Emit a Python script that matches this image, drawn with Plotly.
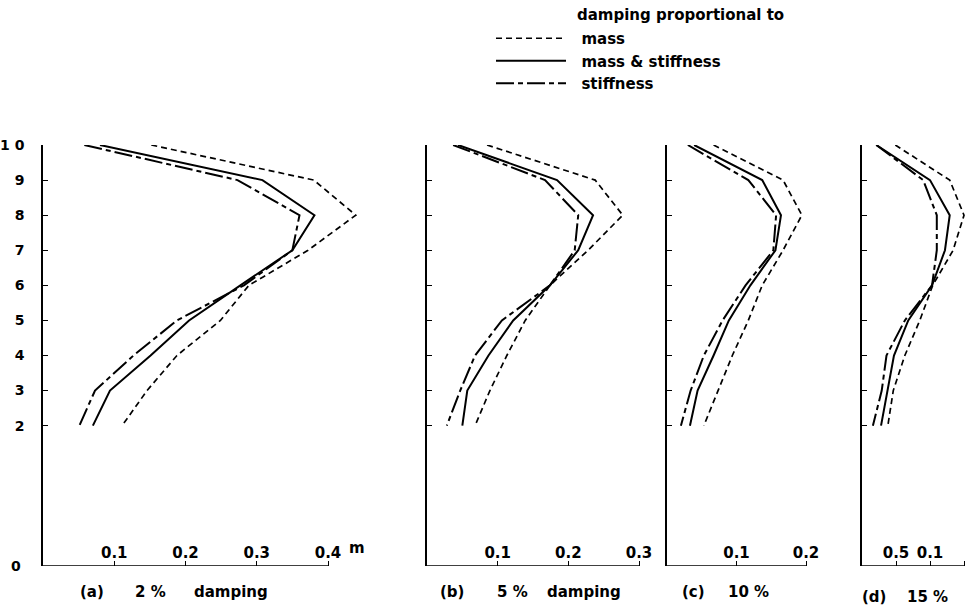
import plotly.graph_objects as go

# Storey levels (top to bottom) at which the peak displacements are plotted
levels = [10, 9, 8, 7, 6, 5, 4, 3, 2]

# Peak displacement (m) per storey, for each damping model
# (a) 2 % damping
a_mass = [0.152, 0.380, 0.439, 0.372, 0.289, 0.249, 0.188, 0.146, 0.111]
a_mass_stiff = [0.080, 0.308, 0.381, 0.350, 0.277, 0.205, 0.151, 0.094, 0.070]
a_stiff = [0.058, 0.273, 0.360, 0.350, 0.282, 0.188, 0.127, 0.073, 0.051]
# (b) 5 % damping
b_mass = [0.085, 0.238, 0.277, 0.228, 0.174, 0.139, 0.113, 0.089, 0.068]
b_mass_stiff = [0.044, 0.184, 0.235, 0.214, 0.174, 0.122, 0.087, 0.057, 0.050]
b_stiff = [0.037, 0.167, 0.214, 0.209, 0.174, 0.106, 0.068, 0.047, 0.028]
# (c) 10 % damping
c_mass = [0.067, 0.167, 0.194, 0.167, 0.137, 0.117, 0.094, 0.073, 0.053]
c_mass_stiff = [0.039, 0.137, 0.164, 0.156, 0.120, 0.089, 0.067, 0.044, 0.033]
c_stiff = [0.030, 0.117, 0.157, 0.153, 0.113, 0.080, 0.053, 0.034, 0.020]
# (d) 15 % damping
d_mass = [0.049, 0.129, 0.150, 0.134, 0.104, 0.085, 0.063, 0.046, 0.038]
d_mass_stiff = [0.021, 0.100, 0.129, 0.122, 0.103, 0.068, 0.047, 0.038, 0.028]
d_stiff = [0.021, 0.090, 0.110, 0.110, 0.103, 0.063, 0.036, 0.029, 0.016]

series_names = ["mass", "mass & stiffness", "stiffness"]

# Axis ticks
y_tickvals = [2, 3, 4, 5, 6, 7, 8, 9, 10]
y_ticktext = ["2", "3", "4", "5", "6", "7", "8", "9", "1 0"]
base_level = -2          # ground line of the storey axis, marked "0"
base_text = "0"
a_xticks = [0.1, 0.2, 0.3, 0.4]
a_xtext = ["0.1", "0.2", "0.3", "0.4"]
b_xticks = [0.1, 0.2, 0.3]
b_xtext = ["0.1", "0.2", "0.3"]
c_xticks = [0.1, 0.2]
c_xtext = ["0.1", "0.2"]
d_xticks = [0.05, 0.1, 0.15]
d_xtext = ["0.5", "0.1", ""]

W, H = 966, 608
FONT = "DejaVu Sans"


def fx(p):
    return p / W


def fy(p):
    return 1 - p / H


# x0: pixel of zero displacement, scale: pixels per metre,
# axis_end: where the drawn axis stops, view: visible extent of the panel
panels = [
    dict(data=[a_mass, a_mass_stiff, a_stiff], x0=43, scale=712.5,
         axis_end=0.4, view=0.46, tv=a_xticks, tt=a_xtext),
    dict(data=[b_mass, b_mass_stiff, b_stiff], x0=427, scale=706.7,
         axis_end=0.3, view=0.33, tv=b_xticks, tt=b_xtext),
    dict(data=[c_mass, c_mass_stiff, c_stiff], x0=667, scale=695.0,
         axis_end=0.2, view=0.235, tv=c_xticks, tt=c_xtext),
    dict(data=[d_mass, d_mass_stiff, d_stiff], x0=862, scale=680.0,
         axis_end=0.15, view=(W - 862) / 680.0, tv=d_xticks, tt=d_xtext),
]

line_styles = [
    dict(color="black", width=1.7, dash="6px,4px"),
    dict(color="black", width=2.0),
    dict(color="black", width=2.0, dash="18px,4px,5px,4px"),
]

fig = go.Figure()
layout = {}
shapes = []
ydom = [fy(566), fy(145)]
tick_font = dict(family=FONT, size=15, color="black", weight="bold")

for i, p in enumerate(panels):
    n = "" if i == 0 else str(i + 1)
    for s, vals in enumerate(p["data"]):
        fig.add_trace(go.Scatter(
            x=vals, y=levels, mode="lines", name="\u00a0\u00a0" + series_names[s],
            line=line_styles[s], showlegend=(i == 0),
            xaxis="x" + n, yaxis="y" + n, hoverinfo="skip",
        ))
    x1 = p["x0"] + p["view"] * p["scale"]
    layout["xaxis" + n] = dict(
        domain=[fx(p["x0"]), min(fx(x1), 1.0)], range=[0, p["view"]],
        anchor="y" + n, showgrid=False, zeroline=False, showline=False,
        automargin=False,
        ticks="inside", ticklen=5, tickwidth=1.2, tickcolor="black",
        tickvals=p["tv"], ticktext=p["tt"], ticklabelposition="inside",
        tickfont=tick_font,
    )
    layout["yaxis" + n] = dict(
        domain=ydom, range=[base_level, 10], anchor="x" + n,
        showgrid=False, zeroline=False, automargin=False,
        showline=True, linecolor="black", linewidth=1.5,
        ticks="inside", ticklen=5, tickwidth=1.2, tickcolor="black",
        tickvals=y_tickvals,
        ticktext=y_ticktext if i == 0 else None,
        showticklabels=(i == 0), ticklabelstandoff=14,
        ticklabeloverflow="allow",
        tickfont=dict(family=FONT, size=14, color="black", weight="bold"),
    )
    # displacement axis, drawn only up to its last graduation
    shapes.append(dict(
        type="line", xref="x" + n, yref="y" + n,
        x0=0, x1=p["axis_end"], y0=base_level, y1=base_level,
        line=dict(color="black", width=1.5),
    ))

annotations = []

# "0" at the foot of the storey axis of panel (a)
annotations.append(dict(
    text=base_text, x=0, y=base_level, xref="x", yref="y",
    showarrow=False, xanchor="right", yanchor="middle", xshift=-20,
    font=dict(family=FONT, size=14, color="black", weight="bold"),
))


def label(text, xpix, ypix, size=15):
    annotations.append(dict(
        text=text, x=fx(xpix), y=fy(ypix), xref="paper", yref="paper",
        showarrow=False, xanchor="center", yanchor="middle",
        font=dict(family=FONT, size=size, color="black", weight="bold"),
    ))


# unit of the displacement axis
label("m", 357, 548)

# panel captions
label("(a)", 92, 592)
label("2 %", 150, 592)
label("damping", 231, 592)
label("(b)", 452, 592)
label("5 %", 512, 592)
label("damping", 584, 592)
label("(c)", 693, 592)
label("10 %", 748, 592)
label("(d)", 874, 597)
label("15 %", 927, 597)

# legend heading
annotations.append(dict(
    text="damping proportional to", x=fx(575), y=fy(15), xref="paper",
    yref="paper", showarrow=False, xanchor="left", yanchor="middle",
    font=dict(family=FONT, size=15, color="black", weight="bold"),
))

fig.update_layout(
    **layout,
    width=W, height=H,
    margin=dict(l=0, r=0, t=0, b=0, autoexpand=False),
    paper_bgcolor="white", plot_bgcolor="white",
    annotations=annotations, shapes=shapes,
    legend=dict(
        x=fx(491), y=fy(22), xanchor="left", yanchor="top",
        itemwidth=70, bgcolor="rgba(0,0,0,0)", borderwidth=0,
        font=dict(family=FONT, size=15, color="black", weight="bold"),
        tracegroupgap=0,
    ),
)

fig.write_html("out.html")
